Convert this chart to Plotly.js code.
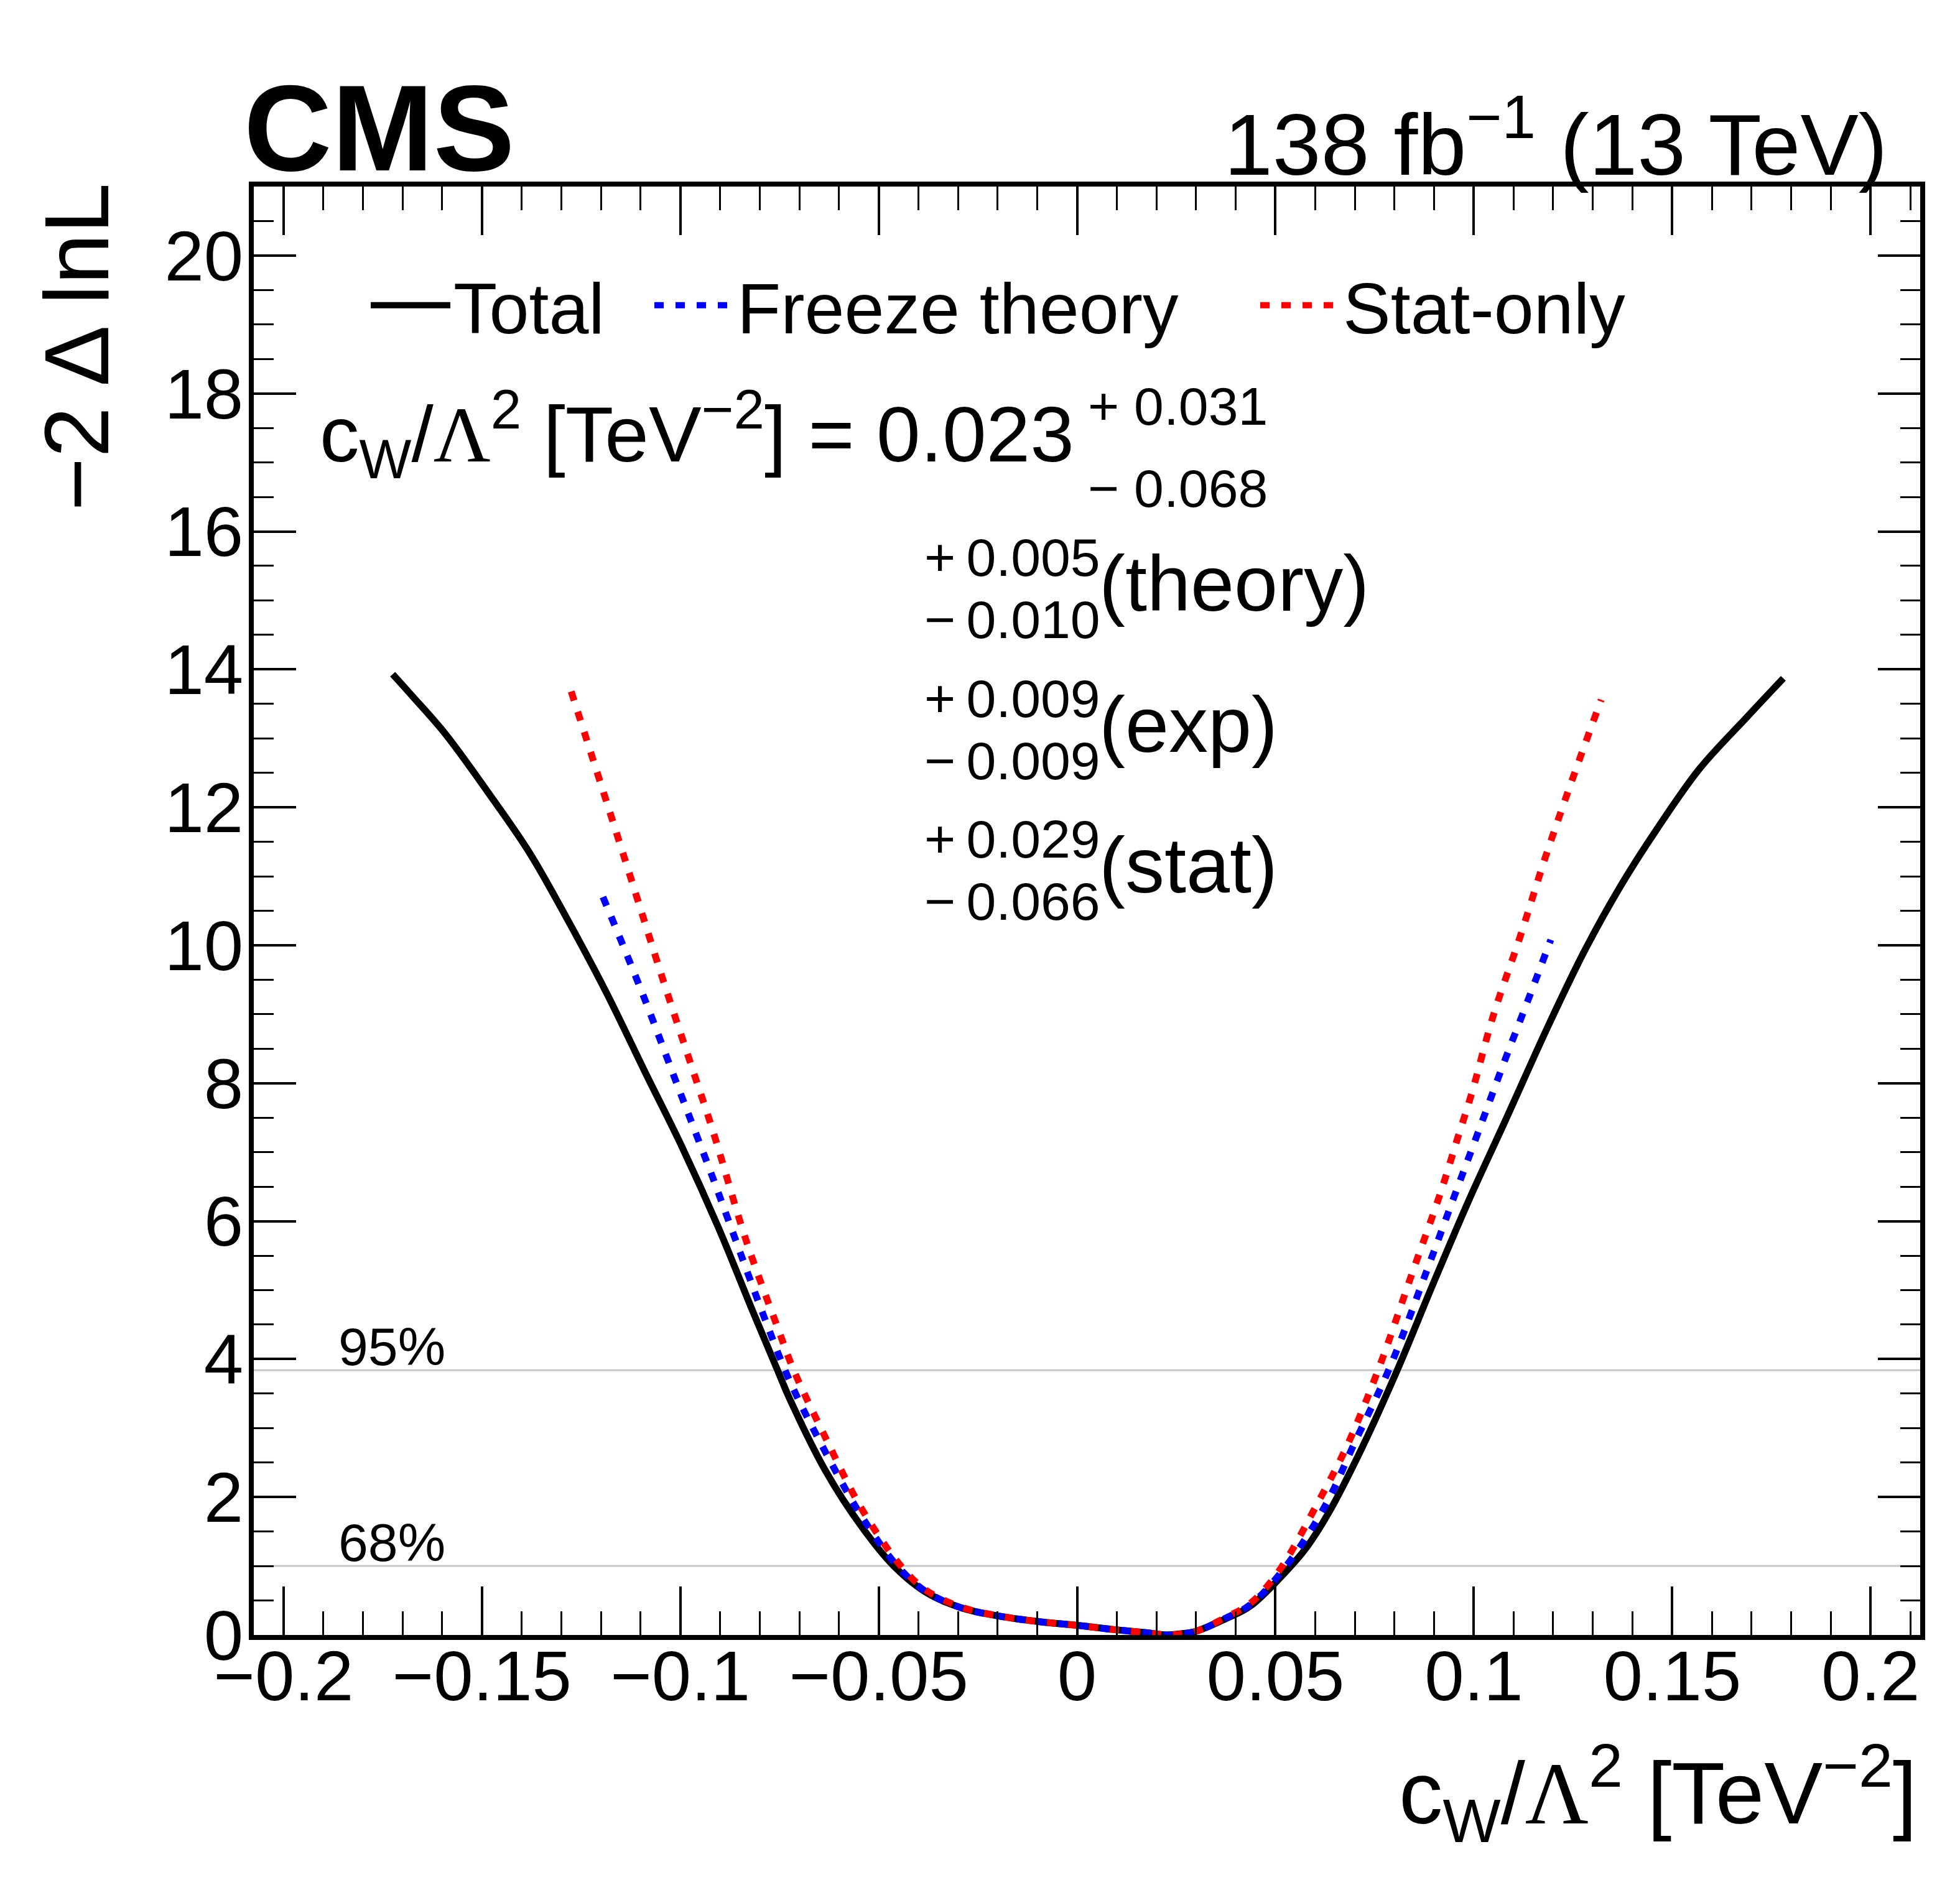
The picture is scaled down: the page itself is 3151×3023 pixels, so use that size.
<!DOCTYPE html>
<html>
<head>
<meta charset="utf-8">
<script src="https://cdn.plot.ly/plotly-3.0.1.min.js"></script>
<style>
  body { margin: 0 ; background: #ffffff ; }
  #fig { width: 3151px ; height: 3023px ; }
</style>
</head>
<body>
<div id="fig"></div>
<script>
// -2 Delta lnL scans for c_W / Lambda^2

// Total (all uncertainties)
const totalX = [-0.1725, -0.1675, -0.1593, -0.1485, -0.1381, -0.1286, -0.1186, -0.1087,
                -0.0996, -0.0905, -0.0815, -0.0755, -0.0724, -0.0634, -0.0543, -0.0462,
                -0.0381, -0.0290, -0.0182, -0.0091, 0.0000, 0.0090, 0.0180, 0.0225,
                0.0265, 0.0298, 0.0373, 0.0437, 0.0536, 0.0581, 0.0635, 0.0717,
                0.0807, 0.0898, 0.0988, 0.1078, 0.1189, 0.1280, 0.1370, 0.1461,
                0.1569, 0.1687, 0.1780];
const totalY = [13.93, 13.61, 13.07, 12.22, 11.35, 10.39, 9.31, 8.14,
                7.08, 5.92, 4.66, 3.84, 3.42, 2.38, 1.57, 1.00,
                0.62, 0.39, 0.26, 0.19, 0.14, 0.08, 0.03, 0.00,
                0.02, 0.05, 0.23, 0.42, 0.98, 1.29, 1.78, 2.70,
                3.84, 5.10, 6.31, 7.44, 8.85, 9.93, 10.86, 11.68,
                12.56, 13.30, 13.87];

// Freeze theory
const freezeX = [-0.1195, -0.1096, -0.1006, -0.0968, -0.0924, -0.0878, -0.0788, -0.0724,
                 -0.0634, -0.0543, -0.0453, -0.0381, -0.0290, -0.0182, -0.0091, 0.0000,
                 0.0090, 0.0180, 0.0225, 0.0298, 0.0373, 0.0437, 0.0527, 0.0626,
                 0.0699, 0.0789, 0.0880, 0.0952, 0.1011, 0.1076, 0.1135, 0.1194];
const freezeY = [10.70, 9.31, 7.95, 7.38, 6.72, 6.00, 4.60, 3.68,
                 2.65, 1.72, 1.00, 0.63, 0.39, 0.26, 0.19, 0.14,
                 0.08, 0.03, 0.00, 0.05, 0.24, 0.44, 1.00, 1.88,
                 2.78, 3.89, 5.26, 6.38, 7.29, 8.30, 9.18, 10.08];

// Stat-only
const statX = [-0.1275, -0.1141, -0.1042, -0.0969, -0.0919, -0.0833, -0.0751, -0.0715,
               -0.0634, -0.0543, -0.0444, -0.0381, -0.0290, -0.0182, -0.0091, 0.0000,
               0.0090, 0.0180, 0.0225, 0.0298, 0.0373, 0.0437, 0.0509, 0.0608,
               0.0681, 0.0762, 0.0843, 0.0916, 0.0959, 0.0995, 0.1049, 0.1117,
               0.1180, 0.1248, 0.1321];
const statY = [13.68, 11.27, 9.47, 8.20, 7.33, 5.70, 4.40, 3.85,
               2.86, 1.83, 1.00, 0.65, 0.40, 0.26, 0.19, 0.14,
               0.08, 0.03, 0.00, 0.05, 0.25, 0.46, 0.93, 1.93,
               2.75, 3.89, 5.22, 6.41, 7.20, 7.86, 8.98, 10.13,
               11.27, 12.40, 13.56];

const seriesNames = ['Total', 'Freeze theory', 'Stat-only'];

// confidence level lines
const clLevels = [1.0, 3.84];
const clLabels = ['68%', '95%'];

// fit result text
const bestFit = '0.023';
const totUp = '0.031', totDown = '0.068';
const errNames = ['theory', 'exp', 'stat'];
const errUp = ['0.005', '0.009', '0.029'];
const errDown = ['0.010', '0.009', '0.066'];

const xRange = [-0.2075, 0.2125];
const yRange = [0, 21];

class scanPlot {
  constructor () {
    this.W = 3151 ; this.H = 3023 ;
    // plot frame in page pixels
    this.L = 408 ; this.R = 3087 ; this.T = 300 ; this.B = 2629 ;
    this.font = '"Liberation Sans", Arial, Helvetica, sans-serif' ;
    this.lambda = '<span style="font-family:\'Liberation Serif\', serif">Λ</span>' ;
  }

  xp(X) { return (X - this.L) / (this.R - this.L) ; }
  yp(Y) { return (this.B - Y) / (this.B - this.T) ; }

  text(X, Y, s, size, anchor, extra) {
    let a = { xref: 'paper', yref: 'paper', x: this.xp(X), y: this.yp(Y),
              text: s, showarrow: false, xanchor: anchor || 'left', yanchor: 'middle',
              font: { family: this.font, size: size, color: '#000000' } } ;
    return Object.assign(a, extra || {}) ;
  }

  plot() {
    const dash = '15px,19px' ;
    const smooth = { shape: 'spline', smoothing: 1.0 } ;
    let series = [] ;
    series.push({ x: totalX, y: totalY, type: 'scatter', mode: 'lines', name: seriesNames[0],
                  line: Object.assign({ color: '#000000', width: 11 }, smooth),
                  legend: 'legend' }) ;
    series.push({ x: freezeX, y: freezeY, type: 'scatter', mode: 'lines', name: seriesNames[1],
                  line: Object.assign({ color: '#0000ff', width: 11, dash: dash }, smooth),
                  legend: 'legend2' }) ;
    series.push({ x: statX, y: statY, type: 'scatter', mode: 'lines', name: seriesNames[2],
                  line: Object.assign({ color: '#ff0000', width: 11, dash: dash }, smooth),
                  legend: 'legend3' }) ;

    let shapes = clLevels.map(v => ({ type: 'line', xref: 'paper', x0: 0, x1: 1, yref: 'y',
                                      y0: v, y1: v, layer: 'below',
                                      line: { color: '#c8c8c8', width: 3 } })) ;

    let ann = [] ;
    clLevels.forEach((v, i) => {
      ann.push({ xref: 'x', yref: 'y', x: -0.1865, y: v, yshift: 38, text: clLabels[i],
                 showarrow: false, xanchor: 'left', yanchor: 'middle',
                 font: { family: this.font, size: 86, color: '#000000' } }) ;
    }) ;

    // header
    ann.push(this.text(390, 206, '<b>CMS</b>', 196, 'left')) ;
    ann.push(this.text(3036, 222, '138 fb<sup>−1</sup> (13 TeV)', 140, 'right')) ;

    // axis titles
    ann.push(this.text(122, 293, '−2 Δ lnL', 147, 'center', { yanchor: 'top', textangle: -90 })) ;
    ann.push(this.text(3084, 2883, 'c<sub>W</sub>/' + this.lambda + '<sup>2</sup> [TeV<sup>−2</sup>]',
                       141, 'right')) ;

    // fit result
    ann.push(this.text(512, 698, 'c<sub>W</sub>/' + this.lambda + '<sup>2</sup> [TeV<sup>−2</sup>] = ' + bestFit,
                       127, 'left')) ;
    ann.push(this.text(1747, 653, '+ ' + totUp, 86, 'left')) ;
    ann.push(this.text(1747, 785, '− ' + totDown, 86, 'left')) ;
    const rowY = [926, 1153, 1379] ;
    errNames.forEach((n, i) => {
      let base = rowY[i] ;
      ann.push(this.text(1484, base - 30, '+\u2009' + errUp[i], 86, 'left')) ;
      ann.push(this.text(1484, base + 100 - 30, '−\u2009' + errDown[i], 86, 'left')) ;
      ann.push(this.text(1765, base + 57 - 45, '(' + n + ')', 126, 'left')) ;
    }) ;

    const axisCommon = {
      showline: true, linecolor: '#000000', linewidth: 8, mirror: 'allticks',
      ticks: 'inside', tickcolor: '#000000', tickwidth: 4,
      showgrid: false, zeroline: false, fixedrange: true,
      tickfont: { family: this.font, size: 114, color: '#000000' }
    } ;

    const legendCommon = (X) => ({
      x: this.xp(X), y: this.yp(491), xanchor: 'left', yanchor: 'middle',
      bgcolor: 'rgba(0,0,0,0)', borderwidth: 0, itemwidth: 128,
      font: { family: this.font, size: 115, color: '#000000' }
    }) ;

    let layout = {
      width: this.W, height: this.H,
      margin: { l: this.L, r: this.W - this.R, t: this.T, b: this.H - this.B, pad: 0 },
      paper_bgcolor: '#ffffff', plot_bgcolor: '#ffffff',
      showlegend: true,
      xaxis: Object.assign({}, axisCommon, {
        range: xRange, tick0: 0, dtick: 0.05, ticklen: 78, ticklabelstandoff: -40,
        minor: { dtick: 0.01, ticklen: 38, tickwidth: 3, ticks: 'inside', tickcolor: '#000000' }
      }),
      yaxis: Object.assign({}, axisCommon, {
        range: yRange, tick0: 0, dtick: 2, ticklen: 68, ticklabelstandoff: -14,
        minor: { dtick: 0.5, ticklen: 32, tickwidth: 3, ticks: 'inside', tickcolor: '#000000' }
      }),
      legend: legendCommon(591),
      legend2: legendCommon(1047),
      legend3: legendCommon(2021),
      shapes: shapes,
      annotations: ann
    } ;

    Plotly.newPlot('fig', series, layout, { staticPlot: true, displayModeBar: false }) ;
  } // end plot
} // end scanPlot

new scanPlot().plot() ;
</script>
</body>
</html>
